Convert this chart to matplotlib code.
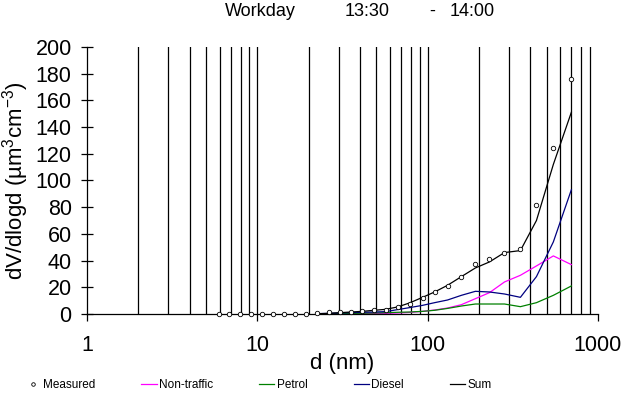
import matplotlib
matplotlib.use('Agg')
import matplotlib.pyplot as plt
from matplotlib.ticker import FixedLocator, NullFormatter

plt.rcParams['font.family'] = ['Liberation Sans', 'DejaVu Sans']
plt.rcParams['mathtext.default'] = 'regular'

# particle diameters (nm) and measured volume distribution
d_meas = [5.95, 6.85, 7.9, 9.16, 10.6, 12.3, 14.3, 16.6, 19.4, 22.5, 26.2, 30.5,
          35.3, 41.4, 48.6, 56.7, 66.7, 78.4, 93.5, 110, 131, 158, 191, 231,
          283, 351, 436, 548, 699]
measured = [0, 0, 0, 0, 0, 0, 0, 0, 0.3, 0.8, 1.3, 1.8,
            1.8, 2.5, 3.0, 3.3, 5.3, 7.8, 12.2, 16.5, 21.2, 27.7, 37.5, 41.4,
            45.5, 48.9, 81.6, 124.6, 176]

# modelled source contributions (from 22.5 nm upward)
d_model = d_meas[9:]
non_traffic = [0, 0, 0, 0.1, 0.2, 0.5, 0.5, 0.8, 1.2, 2.0, 3.0, 4.5, 7.0, 11.5,
               16, 24, 29, 36, 43.5, 37]
petrol = [0.2, 0.3, 0.4, 0.5, 0.6, 0.8, 1.0, 1.3, 1.5, 2.0, 2.8, 4.2, 6.0, 7.5,
          7.5, 7.5, 5.5, 8.5, 14, 21]
diesel = [0.3, 0.5, 0.8, 1.0, 1.3, 1.5, 1.8, 3.3, 4.8, 6.5, 8.5, 10.5, 14, 17,
          16.5, 15, 12.5, 28, 54, 93]
total = [0.2, 0.5, 1.0, 1.5, 2.0, 2.8, 3.5, 5.3, 8.3, 12.5, 16.5, 21.5, 28, 34.5,
         39, 46, 47.5, 70, 112, 151]

fig = plt.figure(figsize=(6.26, 3.97), dpi=100)
ax = fig.add_axes([0.139, 0.209, 0.816, 0.673])

ax.plot(d_meas, measured, 'o', ms=3.2, mfc='white', mec='black', mew=0.6,
        label='Measured', clip_on=False, zorder=5)
ax.plot(d_model, non_traffic, color='#FF00FF', lw=0.9, label='Non-traffic')
ax.plot(d_model, petrol, color='#008000', lw=0.9, label='Petrol')
ax.plot(d_model, diesel, color='#000080', lw=0.9, label='Diesel')
ax.plot(d_model, total, color='black', lw=0.9, label='Sum')

ax.set_xscale('log')
ax.set_xlim(1, 1000)
ax.set_ylim(0, 200)
ax.set_yticks(range(0, 201, 20))
ax.xaxis.set_major_locator(FixedLocator([1, 10, 100, 1000]))
ax.set_xticklabels(['1', '10', '100', '1000'])
minors = [m * 10 ** e for e in range(3) for m in range(2, 10)]
ax.xaxis.set_minor_locator(FixedLocator(minors))
ax.xaxis.set_minor_formatter(NullFormatter())

# full-height vertical lines
ax.grid(which='both', axis='x', color='black', lw=0.9)
for tick in ax.xaxis.get_major_ticks():
    if tick.get_loc() <= 1 or tick.get_loc() >= 1000:
        tick.gridline.set_visible(False)

for s in ['top', 'right']:
    ax.spines[s].set_visible(False)
ax.spines['left'].set_linewidth(0.9)
ax.spines['bottom'].set_linewidth(0.9)
ax.tick_params(axis='y', direction='inout', length=8, width=0.9, labelsize=15.5, pad=7)
ax.tick_params(axis='x', which='major', direction='out', length=5, width=0.9,
               labelsize=15.5, pad=10)
ax.tick_params(axis='x', which='minor', length=0)

ax.set_xlabel('d (nm)', fontsize=16, labelpad=-2)
ax.set_ylabel('dV/dlogd (µm$^{3}$cm$^{-3}$)', fontsize=16, labelpad=3)

# title pieces
ty = 0.972
fig.text(225 / 626, ty, 'Workday', ha='left', va='center', fontsize=13)
fig.text(345 / 626, ty, '13:30', ha='left', va='center', fontsize=13)
fig.text(432 / 626, ty, '-', ha='center', va='center', fontsize=13)
fig.text(450 / 626, ty, '14:00', ha='left', va='center', fontsize=13)

fig.legend(loc='center', bbox_to_anchor=(0.413, 0.03), ncol=5, frameon=False,
           fontsize=8.5, handlelength=1.3, handletextpad=0.2, columnspacing=3.9,
           markerscale=0.8)

fig.savefig('out.png', dpi=100)
